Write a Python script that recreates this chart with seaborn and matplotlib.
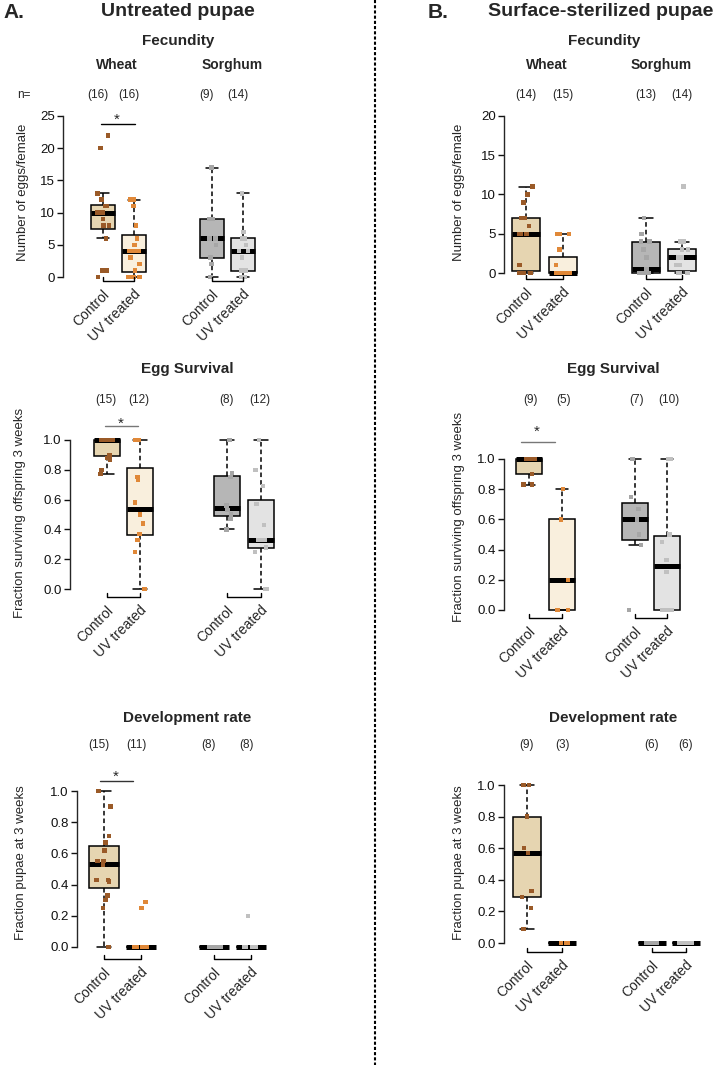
import numpy as np
import pandas as pd
import matplotlib
matplotlib.use("Agg")
import matplotlib.pyplot as plt
from matplotlib.lines import Line2D
import seaborn as sns

# -----------------------------------------------------------------------------
# Data
# -----------------------------------------------------------------------------
GROUPS = ["wheat_ctrl", "wheat_uv", "sorghum_ctrl", "sorghum_uv"]
TICK_LABELS = ["Control", "UV treated", "Control", "UV treated"]
BOX_COLORS = ["#EFD8A8", "#FEF0D8", "#B6B6B6", "#E3E3E3"]
PT_COLORS = ["#9A5A28", "#E08838", "#A6A6A6", "#C0C0C0"]

# A. untreated pupae
a_fec_wheat_ctrl = [0, 1, 1, 6, 8, 8, 9, 10, 10, 10, 11, 11, 12, 13, 20, 22]
a_fec_wheat_uv = [0, 0, 0, 0, 1, 2, 3, 4, 4, 4, 5, 6, 8, 11, 12, 12]
a_fec_sorghum_ctrl = [0, 2, 3, 5, 6, 6, 9, 9, 17]
a_fec_sorghum_uv = [0, 0, 1, 1, 1, 3, 4, 4, 5, 6, 6, 6, 7, 13]

a_egg_wheat_ctrl = [0.77, 0.80, 0.87, 0.88, 0.90, 1, 1, 1, 1, 1, 1, 1, 1, 1, 1]
a_egg_wheat_uv = [0, 0.25, 0.33, 0.37, 0.44, 0.50, 0.58, 0.73, 0.75, 1, 1, 1]
a_egg_sorghum_ctrl = [0.40, 0.47, 0.50, 0.53, 0.56, 0.75, 0.78, 1.0]
a_egg_sorghum_uv = [0, 0, 0.25, 0.28, 0.33, 0.33, 0.33, 0.43, 0.57, 0.69, 0.80, 1.0]

a_dev_wheat_ctrl = [0, 0.25, 0.30, 0.33, 0.42, 0.43, 0.43, 0.53, 0.55, 0.55,
                    0.62, 0.67, 0.71, 0.90, 1.0]
a_dev_wheat_uv = [0, 0, 0, 0, 0, 0, 0, 0, 0, 0.25, 0.29]
a_dev_sorghum_ctrl = [0, 0, 0, 0, 0, 0, 0, 0]
a_dev_sorghum_uv = [0, 0, 0, 0, 0, 0, 0, 0.2]

# B. surface-sterilized pupae
b_fec_wheat_ctrl = [0, 0, 0, 0, 1, 5, 5, 5, 6, 7, 7, 9, 10, 11]
b_fec_wheat_uv = [0, 0, 0, 0, 0, 0, 0, 0, 0, 0, 1, 3, 5, 5, 5]
b_fec_sorghum_ctrl = [0, 0, 0, 0, 0, 0, 0.5, 2, 3, 4, 4, 5, 7]
b_fec_sorghum_uv = [0, 0, 0, 0, 1, 1, 2, 2, 2, 3, 3, 4, 4, 11]

b_egg_wheat_ctrl = [0.83, 0.83, 0.90, 1, 1, 1, 1, 1, 1]
b_egg_wheat_uv = [0, 0, 0.2, 0.6, 0.8]
b_egg_sorghum_ctrl = [0, 0.43, 0.50, 0.60, 0.67, 0.75, 1.0]
b_egg_sorghum_uv = [0, 0, 0, 0, 0.25, 0.33, 0.45, 0.50, 1, 1]

b_dev_wheat_ctrl = [0.09, 0.22, 0.29, 0.33, 0.57, 0.60, 0.80, 1, 1]
b_dev_wheat_uv = [0, 0, 0]
b_dev_sorghum_ctrl = [0, 0, 0, 0, 0, 0]
b_dev_sorghum_uv = [0, 0, 0, 0, 0, 0]

TICKS_FEC_A = [0, 5, 10, 15, 20, 25]
TICKS_FEC_B = [0, 5, 10, 15, 20]
TICKS_FRAC = [0.0, 0.2, 0.4, 0.6, 0.8, 1.0]

# -----------------------------------------------------------------------------
# Layout (pixel positions in the 722 x 1065 canvas)
# -----------------------------------------------------------------------------
PANELS = [
    dict(vals=[a_fec_wheat_ctrl, a_fec_wheat_uv, a_fec_sorghum_ctrl, a_fec_sorghum_uv],
         centers=[103, 134, 212, 243], spine=63, y0=277, y1=116, ticks=TICKS_FEC_A,
         fmt="{:.0f}", ylabel="Number of eggs/female", ylab=(23, 192),
         title="Fecundity", title_xy=(178, 41), n_y=95, n_dx=-5, bracket=281,
         star=(117, 115, 101, 135, 124, "black"), sub=[(117, 65), (232, 65)], nlab=(24, 95)),
    dict(vals=[a_egg_wheat_ctrl, a_egg_wheat_uv, a_egg_sorghum_ctrl, a_egg_sorghum_uv],
         centers=[107, 140, 227, 261], spine=70, y0=589, y1=440, ticks=TICKS_FRAC,
         fmt="{:.1f}", ylabel="Fraction surviving offspring 3 weeks", ylab=(20, 513),
         title="Egg Survival", title_xy=(187, 369), n_y=400, n_dx=-1, bracket=597,
         star=(121, 419, 105, 138, 426, "#777777")),
    dict(vals=[a_dev_wheat_ctrl, a_dev_wheat_uv, a_dev_sorghum_ctrl, a_dev_sorghum_uv],
         centers=[104, 141, 214, 251], spine=77, y0=947, y1=791, ticks=TICKS_FRAC,
         fmt="{:.1f}", ylabel="Fraction pupae at 3 weeks", ylab=(21, 863),
         title="Development rate", title_xy=(187, 718), n_y=745, n_dx=-5, bracket=959,
         star=(116, 772, 100, 133, 781, "#333333")),
    dict(vals=[b_fec_wheat_ctrl, b_fec_wheat_uv, b_fec_sorghum_ctrl, b_fec_sorghum_uv],
         centers=[526, 563, 646, 682], spine=504, y0=273, y1=116, ticks=TICKS_FEC_B,
         fmt="{:.0f}", ylabel="Number of eggs/female", ylab=(459, 192),
         title="Fecundity", title_xy=(604, 41), n_y=95, n_dx=0, bracket=279,
         sub=[(547, 65), (661, 65)]),
    dict(vals=[b_egg_wheat_ctrl, b_egg_wheat_uv, b_egg_sorghum_ctrl, b_egg_sorghum_uv],
         centers=[529, 562, 635, 667], spine=504, y0=610, y1=459, ticks=TICKS_FRAC,
         fmt="{:.1f}", ylabel="Fraction surviving offspring 3 weeks", ylab=(459, 517),
         title="Egg Survival", title_xy=(613, 369), n_y=400, n_dx=2, bracket=618,
         star=(537, 427, 521, 555, 442, "#777777")),
    dict(vals=[b_dev_wheat_ctrl, b_dev_wheat_uv, b_dev_sorghum_ctrl, b_dev_sorghum_uv],
         centers=[527, 562, 652, 686], spine=504, y0=943, y1=785, ticks=TICKS_FRAC,
         fmt="{:.1f}", ylabel="Fraction pupae at 3 weeks", ylab=(459, 863),
         title="Development rate", title_xy=(613, 718), n_y=745, n_dx=0, bracket=952),
]

W, H = 722, 1065

sns.set_style("ticks")
plt.rcParams["font.family"] = ["Liberation Sans", "DejaVu Sans"]
plt.rcParams["axes.linewidth"] = 1.0
np.random.seed(7)

fig = plt.figure(figsize=(W / 100, H / 100), dpi=100)


def fx(x):
    return x / W


def fy(y):
    return 1 - y / H


def ftext(x, y, s, **kw):
    fig.text(fx(x), fy(y), s, **kw)


def fline(xs, ys, **kw):
    fig.add_artist(Line2D([fx(x) for x in xs], [fy(y) for y in ys],
                          transform=fig.transFigure, **kw))


def draw_panel(p):
    vals, centers = p["vals"], p["centers"]
    vmax = p["ticks"][-1]
    scale = (p["y0"] - p["y1"]) / vmax          # pixels per data unit
    lo, hi = -0.05 * vmax, 1.03 * vmax
    top_px = p["y0"] - hi * scale
    bot_px = p["y0"] - lo * scale
    right = centers[-1] + 24

    ax = fig.add_axes([fx(p["spine"]), fy(bot_px),
                       (right - p["spine"]) / W, (bot_px - top_px) / H])

    df = pd.DataFrame({
        "pos": np.repeat(centers, [len(v) for v in vals]).astype(float),
        "val": np.concatenate([np.asarray(v, float) for v in vals]),
        "grp": np.repeat(GROUPS, [len(v) for v in vals]),
    })

    sns.boxplot(data=df, x="pos", y="val", hue="grp", hue_order=GROUPS,
                palette=BOX_COLORS, native_scale=True, dodge=False, width=0.8,
                showfliers=False, linecolor="black", linewidth=1.1,
                whiskerprops={"linestyle": (0, (3, 2))},
                medianprops={"linewidth": 3.6, "solid_capstyle": "butt"},
                legend=False, ax=ax)
    sns.stripplot(data=df, x="pos", y="val", hue="grp", hue_order=GROUPS,
                  palette=PT_COLORS, native_scale=True, dodge=False, jitter=0.2,
                  marker="s", size=3.2, linewidth=0, legend=False, ax=ax, zorder=4)

    ax.set_xlim(p["spine"], right)
    ax.set_ylim(lo, hi)
    ax.set_xticks([])
    ax.set_xlabel("")
    ax.set_ylabel("")
    ax.set_yticks(p["ticks"])
    ax.set_yticklabels([p["fmt"].format(t) for t in p["ticks"]])
    ax.tick_params(axis="y", length=4, width=1, labelsize=9.5, pad=2, colors="#111111")
    for side in ["top", "right", "bottom"]:
        ax.spines[side].set_visible(False)
    ax.spines["left"].set_bounds(0, vmax)
    ax.patch.set_alpha(0)

    # titles, n labels, y label
    ftext(*p["title_xy"], p["title"], ha="center", va="center",
          fontsize=11, fontweight="bold")
    for c, v in zip(centers, vals):
        ftext(c + p["n_dx"], p["n_y"], f"({len(v)})", ha="center", va="center",
              fontsize=8.5)
    ftext(*p["ylab"], p["ylabel"], rotation=90, ha="center", va="center",
          fontsize=9.5)
    if "sub" in p:
        for (x, y), name in zip(p["sub"], ["Wheat", "Sorghum"]):
            ftext(x, y, name, ha="center", va="center", fontsize=10,
                  fontweight="bold")
    if "nlab" in p:
        ftext(*p["nlab"], "n=", ha="center", va="center", fontsize=8.5)

    # brackets under each pair + rotated group labels
    b = p["bracket"]
    for i in (0, 2):
        x0, x1 = centers[i], centers[i + 1]
        fline([x0, x0, x1, x1], [b - 4, b, b, b - 4], color="black", lw=1.0)
    for c, lab in zip(centers, TICK_LABELS):
        ftext(c - 1, b + 6, lab, rotation=45, ha="right", va="top",
              rotation_mode="anchor", fontsize=10)

    # significance star
    if "star" in p:
        sx, sy, lx0, lx1, ly, col = p["star"]
        fline([lx0, lx1], [ly, ly], color=col, lw=1.0)
        ftext(sx, sy + 9, "*", ha="center", va="baseline", fontsize=11)


for p in PANELS:
    draw_panel(p)

# panel headers
ftext(3, 12, "A.", ha="left", va="center", fontsize=15, fontweight="bold")
ftext(178, 12, "Untreated pupae", ha="center", va="center", fontsize=14,
      fontweight="bold")
ftext(428, 12, "B.", ha="left", va="center", fontsize=15, fontweight="bold")
ftext(601, 12, "Surface-sterilized pupae", ha="center", va="center", fontsize=14,
      fontweight="bold")

# dotted divider
fline([375, 375], [0, H], color="black", lw=1.5, linestyle=(0, (1.5, 1)))

fig.savefig("out.png", dpi=100)
